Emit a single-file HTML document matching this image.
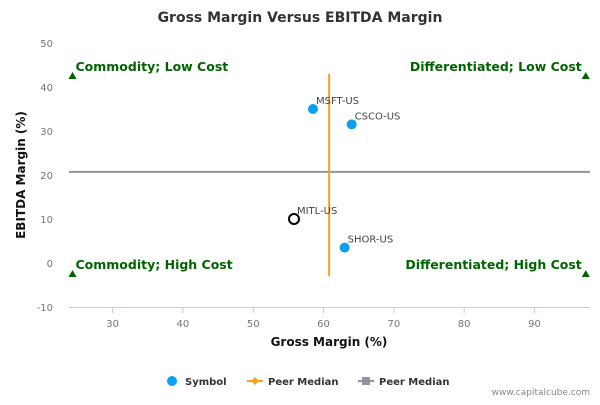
<!DOCTYPE html>
<html><head><meta charset="utf-8"><style>
body{margin:0;background:#fff;}
svg{font-family:"DejaVu Sans","Liberation Sans",sans-serif;}
</style></head><body>
<svg id="chart" width="600" height="400" xmlns="http://www.w3.org/2000/svg">
<text x="300" y="22" text-anchor="middle" font-size="14" font-weight="bold" fill="#333">Gross Margin Versus EBITDA Margin</text>
<g id="grid"></g>
<g id="marks"></g>
<text x="329" y="346" text-anchor="middle" font-size="12" font-weight="bold" fill="#111">Gross Margin (%)</text>
<text transform="translate(25,175) rotate(-90)" text-anchor="middle" font-size="12" font-weight="bold" fill="#111">EBITDA Margin (%)</text>
<g font-size="10" font-weight="bold" fill="#333">
<g><circle cx="172" cy="381" r="5" fill="#0aa0f0"/><text x="185" y="385">Symbol</text></g>
<g><line x1="247" y1="381" x2="263" y2="381" stroke="#f7a21b" stroke-width="2"/><path d="M255 377 L259 381 L255 385 L251 381Z" fill="#f7a21b"/><text x="268" y="385">Peer Median</text></g>
<g><line x1="358" y1="381" x2="374" y2="381" stroke="#8f96a0" stroke-width="2"/><rect x="362" y="377" width="8" height="8" fill="#8f96a0"/><text x="379" y="385">Peer Median</text></g>
</g>
<text x="590" y="395" text-anchor="end" font-size="9" fill="#888">www.capitalcube.com</text>
</svg>
<script>
const xTicks=[30,40,50,60,70,80,90];
const yTicks=[-10,0,10,20,30,40,50];
const symbols=["MSFT-US","CSCO-US","MITL-US","SHOR-US"];
const grossMargin=[58.5,64.0,55.8,63.0];
const ebitdaMargin=[35.0,31.5,10.0,3.5];
const highlighted=[false,false,true,false];
const peerMedianX=[60.8];
const peerMedianY=[20.7];
const quadrantLabels=["Commodity; Low Cost","Differentiated; Low Cost","Commodity; High Cost","Differentiated; High Cost"];
const quadrantX=[24.3,97.3,24.3,97.3];
const quadrantY=[42.5,42.5,-2.5,-2.5];
const vLineRange=[-3,43];

const X0=69,X1=590,XMIN=23.8,XMAX=97.9;
const Y0=307,YMIN=-10,PPU=4.4;
const sx=v=>X0+(v-XMIN)/(XMAX-XMIN)*(X1-X0);
const sy=v=>Y0-(v-YMIN)*PPU;
const NS="http://www.w3.org/2000/svg";
const grid=document.getElementById('grid'),marks=document.getElementById('marks');
function mk(tag,attrs,parent,text){const e=document.createElementNS(NS,tag);for(const k in attrs)e.setAttribute(k,attrs[k]);if(text!==undefined)e.textContent=text;parent.appendChild(e);return e;}
const ax=mk('line',{x1:X0,x2:X1,y1:sy(-10)+0.5,y2:sy(-10)+0.5,stroke:'#c0d0e0','stroke-width':1},grid);


xTicks.forEach(t=>{
 const l=mk('line',{x1:sx(t),x2:sx(t),y1:sy(-10),y2:sy(-10)+6,stroke:'#c0d0e0'},grid);
 
 
 const tx=mk('text',{x:sx(t),y:sy(-10)+20,'text-anchor':'middle','font-size':'10',fill:'#777'},grid,String(t));
 
 
});
yTicks.forEach(t=>{
 const tx=mk('text',{x:53,y:sy(t)+4,'text-anchor':'end','font-size':'10',fill:'#777'},grid,String(t));
 
 
});
const hl=mk('line',{x1:X0,x2:X1,y1:sy(peerMedianY[0]),y2:sy(peerMedianY[0]),stroke:'#8f96a0','stroke-width':2},marks);


const vl=mk('line',{x1:sx(peerMedianX[0]),x2:sx(peerMedianX[0]),y1:sy(vLineRange[0]),y2:sy(vLineRange[1]),stroke:'#f7a21b','stroke-width':2},marks);


quadrantLabels.forEach((q,i)=>{
 const x=sx(quadrantX[i]),y=sy(quadrantY[i]);
 const tr=mk('path',{d:`M${x} ${y-4} L${x+4} ${y+3} L${x-4} ${y+3}Z`,fill:'#006400'},marks);
 
 
 const left=i%2===0;
 const tx=mk('text',{x:left?x+3:x-4,y:y-5,'text-anchor':left?'start':'end','font-size':'12.5','font-weight':'bold',fill:'#006400'},marks,q);
 
 
});
symbols.forEach((s,i)=>{
 const x=sx(grossMargin[i]),y=sy(ebitdaMargin[i]);
 const c=highlighted[i]?mk('circle',{cx:x,cy:y,r:5,fill:'#fff',stroke:'#000','stroke-width':2},marks):mk('circle',{cx:x,cy:y,r:5,fill:'#0aa0f0'},marks);
 
 
 const tx=mk('text',{x:x+3,y:y-5,'font-size':'10',fill:'#444'},marks,s);
 
 
});
</script>
</body></html>
